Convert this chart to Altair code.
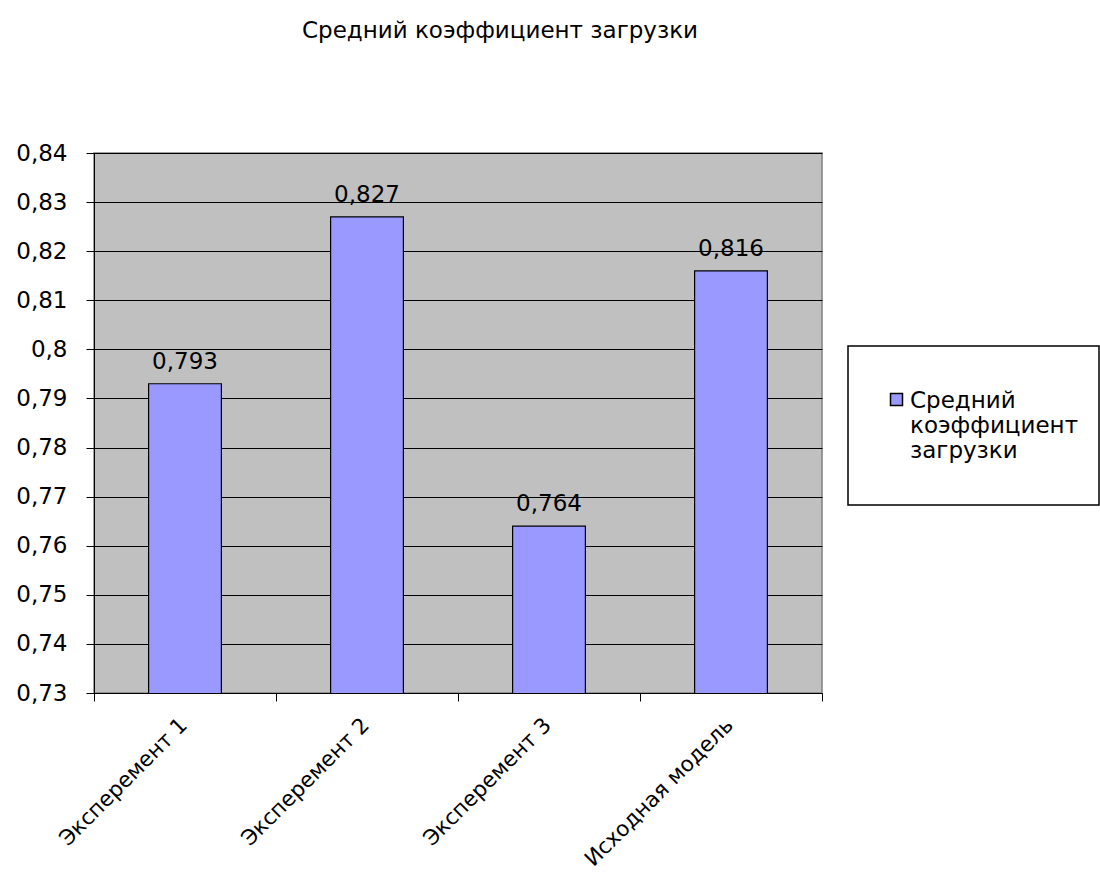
import altair as alt
import pandas as pd

categories = ["Эксперемент 1", "Эксперемент 2", "Эксперемент 3", "Исходная модель"]
values = [0.793, 0.827, 0.764, 0.816]
series_name = "Средний коэффициент загрузки"
y_ticks = [0.73, 0.74, 0.75, 0.76, 0.77, 0.78, 0.79, 0.80, 0.81, 0.82, 0.83, 0.84]

df = pd.DataFrame({"cat": categories, "value": values, "series": [series_name] * len(categories)})

FONT = "DejaVu Sans"
FS = 23

x_enc = alt.X("cat:N", sort=categories, title=None,
              scale=alt.Scale(paddingInner=0, paddingOuter=0),
              axis=alt.Axis(tickBand="extent", labelAngle=-45, labelAlign="right",
                            labelBaseline="top", labelFontSize=21.5, labelFont=FONT,
                            labelColor="black", labelPadding=13, labelOffset=-9,
                            labelLimit=400,
                            tickColor="black", tickSize=8, domainColor="black", grid=False))
y_enc = alt.Y("value:Q", title=None,
              scale=alt.Scale(domain=[0.73, 0.84], nice=False, zero=False),
              axis=alt.Axis(values=y_ticks,
                            labelExpr="replace(format(datum.value, '.2~f'), '.', ',')",
                            labelFontSize=FS, labelFont=FONT, labelColor="black",
                            labelPadding=19, tickColor="black", tickSize=8,
                            domain=True, domainColor="black",
                            grid=True, gridColor="black", gridWidth=1, gridOpacity=1))

box = alt.Chart(alt.Data(values=[{}])).mark_rect(
    fill="white", stroke="black", strokeWidth=1.5
).encode(x=alt.value(754), x2=alt.value(1005), y=alt.value(193), y2=alt.value(352))

bars = alt.Chart(df).mark_bar(stroke="black", strokeWidth=1.2, clip=True,
                              width=alt.RelativeBandSize(0.4)).encode(
    x=x_enc, y=y_enc,
    color=alt.Color("series:N", title=None,
                    scale=alt.Scale(range=["#9999FF"]),
                    legend=alt.Legend(orient="none", legendX=791, legendY=225,
                                      symbolType="M-1,0.67H1V2.67H-1Z", symbolSize=144,
                                      symbolStrokeColor="black", symbolStrokeWidth=1.5,
                                      labelFontSize=FS, labelFont=FONT, labelColor="black",
                                      labelBaseline="top", labelOffset=2,
                                      labelExpr="split(datum.label, ' ')",
                                      labelLimit=300, padding=0))
)

labels = alt.Chart(df).transform_calculate(
    lbl="replace(format(datum.value, '.3f'), '.', ',')"
).mark_text(dy=-15, fontSize=FS, font=FONT, color="black", baseline="alphabetic").encode(
    x=alt.X("cat:N", sort=categories), y="value:Q", text="lbl:N"
)

chart = alt.layer(box, bars, labels).properties(
    width=728, height=540,
    title=alt.TitleParams(series_name, fontSize=FS, font=FONT, fontWeight="normal",
                          color="black", frame="group", anchor="middle", dx=42, offset=99),
    autosize=alt.AutoSizeParams(type="none"),
    padding={"left": 94, "top": 153, "right": 278, "bottom": 186},
).configure_view(
    fill="#C0C0C0", stroke="#808080", strokeWidth=1.5
)

chart.save("out.html", embed_options={"renderer": "svg", "actions": False})
